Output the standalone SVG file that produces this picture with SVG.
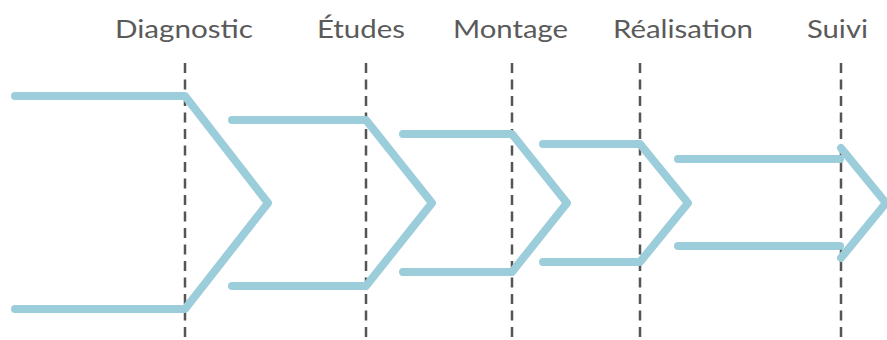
<svg xmlns="http://www.w3.org/2000/svg" width="887" height="340" viewBox="0 0 887 340">
<style>
.lbl{font-family:"Lato","Noto Sans",sans-serif;font-size:25px;fill:#5a5a5a;text-anchor:middle}
.guide{stroke:#555;stroke-width:2.5;stroke-dasharray:10 6.5;fill:none}
.chev{stroke:#9ccddb;stroke-width:8;fill:none;stroke-linecap:round;stroke-linejoin:round}
</style>
<rect width="887" height="340" fill="#fff"/>
<g id="labels">
<text class="lbl" x="184" y="38" textLength="138" lengthAdjust="spacingAndGlyphs">Diagnostic</text>
<text class="lbl" x="361" y="38" textLength="88" lengthAdjust="spacingAndGlyphs">Études</text>
<text class="lbl" x="510.5" y="38" textLength="115" lengthAdjust="spacingAndGlyphs">Montage</text>
<text class="lbl" x="683" y="38" textLength="140" lengthAdjust="spacingAndGlyphs">Réalisation</text>
<text class="lbl" x="837.5" y="38" textLength="61" lengthAdjust="spacingAndGlyphs">Suivi</text>
</g>
<g id="guides">
<line class="guide" x1="185" y1="63" x2="185" y2="340"/>
<line class="guide" x1="366" y1="63" x2="366" y2="340"/>
<line class="guide" x1="512" y1="63" x2="512" y2="340"/>
<line class="guide" x1="640" y1="63" x2="640" y2="340"/>
<line class="guide" x1="841" y1="63" x2="841" y2="340"/>
</g>
<g id="diagnostic"><polyline class="chev" points="15,96 185,96 268,203 185,309 15,309"/></g>
<g id="etudes"><polyline class="chev" points="232,120 366,120 432,203 366,286 232,286"/></g>
<g id="montage"><polyline class="chev" points="403,134 512,134 567,203 512,272 403,272"/></g>
<g id="realisation"><polyline class="chev" points="543,144 640,144 688,203 640,262 543,262"/></g>
<g id="suivi">
<polyline class="chev" points="678,159 840,159"/>
<polyline class="chev" points="678,246 840,246"/>
<polyline class="chev" points="841,148 886,203 841,258"/>
</g>
</svg>
